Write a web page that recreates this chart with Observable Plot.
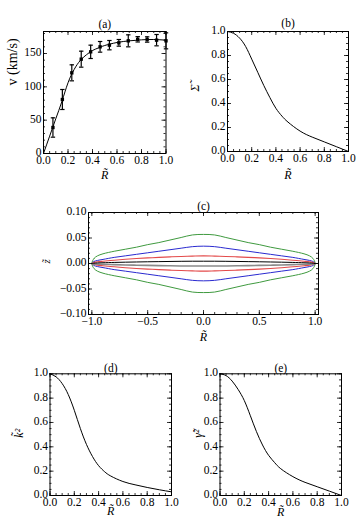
<!DOCTYPE html>
<html><head><meta charset="utf-8">
<script src="https://cdn.jsdelivr.net/npm/d3@7"></script>
<script src="https://cdn.jsdelivr.net/npm/@observablehq/plot@0.6"></script>
<style>
body{margin:0;background:#fff;}
#wrap{position:relative;width:356px;height:531px;overflow:hidden;background:#fff;}
#wrap svg, #wrap svg text, #wrap svg g { font-family: "Liberation Serif", "DejaVu Serif", serif !important; }
</style></head><body><div id="wrap"></div>
<script>
// ---- panel (a): rotation curve data
const rPoints = [0.077, 0.154, 0.231, 0.308, 0.385, 0.462, 0.538, 0.615, 0.692, 0.769, 0.846, 0.923, 1.0];
const vPoints = [39, 81, 121, 141.5, 152.5, 160, 162.5, 166, 169, 171.3, 171, 170, 169];
const vErr    = [14.5, 15, 12, 12, 10, 8, 7, 5, 9, 4, 4, 8.5, 12];
const rCurveA = [0, 0.05, 0.1, 0.15, 0.2, 0.25, 0.3, 0.35, 0.4, 0.45, 0.5, 0.6, 0.7, 0.8, 0.9, 1.0];
const vCurveA = [0, 26, 52, 78, 106, 126, 139.5, 148, 154.5, 158.5, 162, 166.5, 169, 170.5, 171, 170];
// ---- panel (b): surface density
const rB = [0, 0.05, 0.1, 0.15, 0.2, 0.25, 0.3, 0.35, 0.4, 0.45, 0.5, 0.6, 0.7, 0.8, 0.9, 1.0];
const sigmaB = [1, 0.985, 0.945, 0.875, 0.77, 0.66, 0.55, 0.45, 0.36, 0.295, 0.245, 0.17, 0.12, 0.08, 0.04, 0];
// ---- panel (d)
const rD = [0, 0.05, 0.1, 0.15, 0.2, 0.25, 0.3, 0.35, 0.4, 0.45, 0.5, 0.6, 0.7, 0.8, 0.9, 1.0];
const kD = [1, 0.975, 0.92, 0.83, 0.70, 0.55, 0.42, 0.32, 0.245, 0.195, 0.16, 0.115, 0.088, 0.066, 0.047, 0.03];
// ---- panel (e)
const rE = [0, 0.05, 0.1, 0.15, 0.2, 0.25, 0.3, 0.35, 0.4, 0.45, 0.5, 0.6, 0.7, 0.8, 0.9, 1.0];
const gE = [1, 0.985, 0.94, 0.87, 0.78, 0.655, 0.525, 0.415, 0.33, 0.27, 0.22, 0.155, 0.108, 0.072, 0.036, 0];
// ---- panel (c): contour half-thickness profiles vs |R|
const cX     = [0, 0.1, 0.2, 0.3, 0.4, 0.5, 0.6, 0.7, 0.8, 0.9, 0.95, 0.98, 1.0];
const greenH = [0.057, 0.056, 0.051, 0.046, 0.041, 0.037, 0.032, 0.028, 0.024, 0.019, 0.015, 0.010, 0];
const blueH  = [0.034, 0.033, 0.030, 0.027, 0.024, 0.021, 0.018, 0.015, 0.012, 0.008, 0.006, 0.004, 0];
const redH   = [0.015, 0.0145, 0.0138, 0.013, 0.012, 0.011, 0.0098, 0.0082, 0.0065, 0.0045, 0.0033, 0.002, 0];
const blackH = [0.0045, 0.0045, 0.0043, 0.004, 0.0037, 0.0034, 0.003, 0.0026, 0.0021, 0.0015, 0.0011, 0.0006, 0];
const grayH  = [-0.005, -0.005, -0.0048, -0.0045, -0.0041, -0.0037, -0.0033, -0.0028, -0.0023, -0.0016, -0.0012, -0.0007, 0];
// ---- tick values
const unitTicks = [0, 0.2, 0.4, 0.6, 0.8, 1.0];
const vTicks = [0, 50, 100, 150];
const zTicks = [-0.10, -0.05, 0, 0.05, 0.10];
const xcTicks = [-1.0, -0.5, 0, 0.5, 1.0];

const wrap = document.getElementById("wrap");
const FONT = "Liberation Serif, DejaVu Serif, serif";

function makePanel(c) {
  const iw = c.width - c.ml - c.mr, ih = c.height - c.mt - c.mb;
  const ticks = [];
  const addX = (vals, len) => {
    ticks.push(Plot.tickX(vals, {x: d => d, insetTop: ih - len, stroke: "black", strokeWidth: 0.8}));
    ticks.push(Plot.tickX(vals, {x: d => d, insetBottom: ih - len, stroke: "black", strokeWidth: 0.8}));
  };
  const addY = (vals, len) => {
    ticks.push(Plot.tickY(vals, {y: d => d, insetRight: iw - len, stroke: "black", strokeWidth: 0.8}));
    ticks.push(Plot.tickY(vals, {y: d => d, insetLeft: iw - len, stroke: "black", strokeWidth: 0.8}));
  };
  addX(c.xMajor, 4); addX(c.xMinor, 2);
  addY(c.yMajor, 4); addY(c.yMinor, 2);
  const chart = Plot.plot({
    width: c.width, height: c.height,
    marginLeft: c.ml, marginRight: c.mr, marginTop: c.mt, marginBottom: c.mb,
    x: {domain: c.xDomain, label: null},
    y: {domain: c.yDomain, label: null},
    style: {fontFamily: FONT, fontSize: "11.5px", color: "black", background: "transparent", overflow: "visible"},
    marks: [
      ...c.marks,
      Plot.frame({stroke: "black", strokeWidth: 1}),
      ...ticks,
      Plot.axisX({ticks: c.xMajor, tickSize: 0, tickPadding: 2, tickFormat: c.xFmt, label: null, fill: "black"}),
      Plot.axisY({ticks: c.yMajor, tickSize: 0, tickPadding: 2, tickFormat: c.yFmt, label: null, fill: "black", dy: -1}),
      Plot.text([c.title], {frameAnchor: "top", dy: c.titleDy, fontSize: 11.5, fill: "black"}),
      Plot.text([c.xLabel], {frameAnchor: "bottom", dy: c.xLabelDy, fontSize: 12, fontStyle: "italic", fill: "black"}),
      Plot.text([c.yLabel], {frameAnchor: "left", dx: c.yLabelDx, dy: c.yLabelDy || 0, rotate: -90, fontSize: c.yLabelSize || 11, fontStyle: c.yLabelStyle || "italic", fill: "black"})
    ]
  });
  chart.setAttribute("font-family", FONT);
  chart.style.position = "absolute";
  chart.style.left = c.left + "px";
  chart.style.top = c.top + "px";
  wrap.appendChild(chart);
}

const f1 = d3.format(".1f"), f0 = d3.format("d"), f2 = d3.format(".2f");
const unitMinor = d3.range(0, 1.0001, 0.05);
const toRows = (xs, ys) => xs.map((x, i) => ({x, y: ys[i]}));
const hbar = {draw(ctx, size) { const r = Math.sqrt(size / Math.PI); ctx.moveTo(-r, 0); ctx.lineTo(r, 0); }};

// (a)
const ptsA = rPoints.map((r, i) => ({r, v: vPoints[i], e: vErr[i]}));
makePanel({
  left: 0, top: 0, width: 178, height: 185, ml: 43, mr: 12.5, mt: 31, mb: 32,
  xDomain: [0, 1], yDomain: [0, 183],
  xMajor: unitTicks, xMinor: unitMinor, yMajor: vTicks, yMinor: d3.range(0, 181, 10),
  xFmt: f1, yFmt: f0, title: "(a)", titleDy: -12, xLabel: "R̃", xLabelDy: 25,
  yLabel: "v (km/s)", yLabelDx: -31, yLabelDy: -7, yLabelStyle: "normal", yLabelSize: 14,
  marks: [
    Plot.line(toRows(rCurveA, vCurveA), {x: "x", y: "y", curve: "natural", stroke: "black", strokeWidth: 1}),
    Plot.ruleX(ptsA, {x: "r", y1: d => d.v - d.e, y2: d => d.v + d.e, stroke: "black", strokeWidth: 1.2}),
    Plot.dot(ptsA, {x: "r", y: d => d.v - d.e, symbol: hbar, r: 2.2, stroke: "black", strokeWidth: 1.2}),
    Plot.dot(ptsA, {x: "r", y: d => d.v + d.e, symbol: hbar, r: 2.2, stroke: "black", strokeWidth: 1.2}),
    Plot.dot(ptsA, {x: "r", y: "v", symbol: "square", r: 1.9, fill: "black"})
  ]
});

// (b)
makePanel({
  left: 178, top: 0, width: 178, height: 185, ml: 49, mr: 8, mt: 31, mb: 34,
  xDomain: [0, 1], yDomain: [0, 1],
  xMajor: unitTicks, xMinor: unitMinor, yMajor: unitTicks, yMinor: unitMinor,
  xFmt: f1, yFmt: f1, title: "(b)", titleDy: -13, xLabel: "R̃", xLabelDy: 27,
  yLabel: "Σ̃", yLabelDx: -32, yLabelDy: 0, yLabelSize: 12,
  marks: [Plot.line(toRows(rB, sigmaB), {x: "x", y: "y", curve: "natural", stroke: "black", strokeWidth: 1})]
});

// (c)
function loop(h) {
  const pts = [];
  for (let i = cX.length - 1; i >= 0; i--) pts.push({x: -cX[i], y: h[i]});
  for (let i = 1; i < cX.length; i++) pts.push({x: cX[i], y: h[i]});
  for (let i = cX.length - 2; i >= 0; i--) pts.push({x: cX[i], y: -h[i]});
  for (let i = 1; i < cX.length - 1; i++) pts.push({x: -cX[i], y: -h[i]});
  return pts;
}
function half(h) {
  const pts = [];
  for (let i = cX.length - 1; i >= 0; i--) pts.push({x: -cX[i], y: h[i]});
  for (let i = 1; i < cX.length; i++) pts.push({x: cX[i], y: h[i]});
  return pts;
}
makePanel({
  left: 0, top: 185, width: 356, height: 165, ml: 88, mr: 38, mt: 27, mb: 36,
  xDomain: [-1.03, 1.03], yDomain: [-0.1, 0.1],
  xMajor: xcTicks, xMinor: d3.range(-1.0, 1.0001, 0.1), yMajor: zTicks, yMinor: d3.range(-0.1, 0.10001, 0.01),
  xFmt: f1, yFmt: f2, title: "(c)", titleDy: -11, xLabel: "R̃", xLabelDy: 26,
  yLabel: "z̃", yLabelDx: -42, yLabelDy: 0,
  marks: [
    Plot.line(loop(greenH), {x: "x", y: "y", curve: "catmull-rom-closed", stroke: "#3f9a3f", strokeWidth: 1}),
    Plot.line(loop(blueH), {x: "x", y: "y", curve: "catmull-rom-closed", stroke: "#2a2ad0", strokeWidth: 1}),
    Plot.line(loop(redH), {x: "x", y: "y", curve: "catmull-rom-closed", stroke: "#e34a4a", strokeWidth: 1.1}),
    Plot.line(half(grayH), {x: "x", y: "y", curve: "catmull-rom", stroke: "#8a8a8a", strokeWidth: 1.6}),
    Plot.line(half(blackH), {x: "x", y: "y", curve: "catmull-rom", stroke: "black", strokeWidth: 1})
  ]
});

// (d)
makePanel({
  left: 0, top: 350, width: 178, height: 181, ml: 49.5, mr: 7, mt: 23.3, mb: 36,
  xDomain: [0, 1], yDomain: [0, 1],
  xMajor: unitTicks, xMinor: unitMinor, yMajor: unitTicks, yMinor: unitMinor,
  xFmt: f1, yFmt: f1, title: "(d)", titleDy: -10, xLabel: "R̃", xLabelDy: 19,
  yLabel: "k̃²", yLabelDx: -31, yLabelDy: 3, yLabelSize: 12,
  marks: [Plot.line(toRows(rD, kD), {x: "x", y: "y", curve: "natural", stroke: "black", strokeWidth: 1})]
});

// (e)
makePanel({
  left: 178, top: 350, width: 178, height: 181, ml: 41.5, mr: 15, mt: 23.3, mb: 36,
  xDomain: [0, 1], yDomain: [0, 1],
  xMajor: unitTicks, xMinor: unitMinor, yMajor: unitTicks, yMinor: unitMinor,
  xFmt: f1, yFmt: f1, title: "(e)", titleDy: -10, xLabel: "R̃", xLabelDy: 20,
  yLabel: "γ̃²", yLabelDx: -22, yLabelDy: 3, yLabelSize: 12,
  marks: [Plot.line(toRows(rE, gE), {x: "x", y: "y", curve: "natural", stroke: "black", strokeWidth: 1})]
});
</script></body></html>
